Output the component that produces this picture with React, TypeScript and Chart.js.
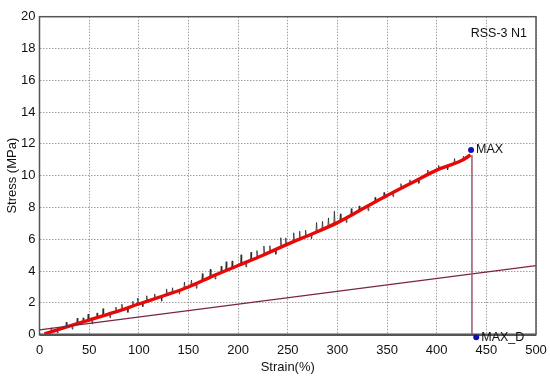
import React, { useEffect, useRef } from "react";
import { Chart, registerables } from "chart.js";

Chart.register(...registerables);

// Smoothed (red) curve
const smoothStrain = [5, 25, 50, 75, 100, 125, 150, 175, 200, 225, 250, 275, 300, 325, 350, 375, 400, 425, 434];
const smoothStress = [0.05, 0.45, 0.92, 1.4, 1.93, 2.45, 3.0, 3.7, 4.35, 5.0, 5.7, 6.35, 7.05, 7.9, 8.75, 9.55, 10.35, 10.95, 11.3];

// Raw (black, noisy) record
const rawStrain = [
  5,
  11.4, 12, 12.6, 17.4, 18, 18.6, 26.4, 27, 27.6, 32.4, 33, 33.6, 37.4, 38, 38.6,
  43.4, 44, 44.6, 48.4, 49, 49.6, 52.4, 53, 53.6, 57.4, 58, 58.6, 63.4, 64, 64.6,
  70.4, 71, 71.6, 76.4, 77, 77.6, 82.4, 83, 83.6, 88.4, 89, 89.6, 93.4, 94, 94.6,
  98.4, 99, 99.6, 103.4, 104, 104.6, 107.4, 108, 108.6, 115.4, 116, 116.6, 122.4, 123, 123.6,
  127.4, 128, 128.6, 133.4, 134, 134.6, 140.4, 141, 141.6, 145.4, 146, 146.6, 152.4, 153, 153.6,
  157.4, 158, 158.6, 163.4, 164, 164.6, 171.4, 172, 172.6, 176.4, 177, 177.6, 182.4, 183, 183.6,
  187.4, 188, 188.6, 193.4, 194, 194.6, 202.4, 203, 203.6, 207.4, 208, 208.6, 212.4, 213, 213.6,
  218.4, 219, 219.6, 225.4, 226, 226.6, 231.4, 232, 232.6, 237.4, 238, 238.6, 242.4, 243, 243.6,
  247.4, 248, 248.6, 255.4, 256, 256.6, 261.4, 262, 262.6, 267.4, 268, 268.6, 273.4, 274, 274.6,
  278.4, 279, 279.6, 284.4, 285, 285.6, 290.4, 291, 291.6, 296.4, 297, 297.6, 302.4, 303, 303.6,
  308.4, 309, 309.6, 313.4, 314, 314.6, 321.4, 322, 322.6, 330.4, 331, 331.6, 337.4, 338, 338.6,
  346.4, 347, 347.6, 355.4, 356, 356.6, 363.4, 364, 364.6, 372.4, 373, 373.6, 381.4, 382, 382.6,
  390.4, 391, 391.6, 401.4, 402, 402.6, 410.4, 411, 411.6, 417.4, 418, 418.6, 426.4, 427, 427.6,
  434,
];
const rawStress = [
  0.05,
  0.19, 0.44, 0.2, 0.3, 0.11, 0.32, 0.48, 0.79, 0.5, 0.59, 0.35, 0.61, 0.68, 1.04, 0.7,
  0.8, 1.06, 0.82, 0.89, 1.3, 0.91, 0.97, 0.68, 0.99, 1.06, 1.37, 1.08, 1.18, 1.64, 1.2,
  1.31, 1.07, 1.33, 1.43, 1.74, 1.45, 1.56, 1.92, 1.58, 1.69, 1.4, 1.71, 1.79, 2.1, 1.81,
  1.9, 2.31, 1.92, 2.0, 1.76, 2.02, 2.09, 2.45, 2.11, 2.25, 2.56, 2.27, 2.4, 2.11, 2.42,
  2.51, 2.87, 2.53, 2.64, 2.95, 2.66, 2.79, 2.55, 2.81, 2.9, 3.31, 2.92, 3.07, 3.43, 3.09,
  3.21, 2.92, 3.23, 3.38, 3.84, 3.4, 3.61, 4.12, 3.63, 3.74, 3.5, 3.76, 3.9, 4.31, 3.92,
  4.03, 4.59, 4.05, 4.18, 4.64, 4.2, 4.42, 5.03, 4.44, 4.55, 4.26, 4.57, 4.68, 5.19, 4.7,
  4.83, 5.29, 4.85, 5.02, 5.58, 5.04, 5.19, 5.6, 5.21, 5.35, 5.06, 5.37, 5.49, 6.1, 5.51,
  5.63, 6.09, 5.65, 5.85, 6.41, 5.87, 6.0, 6.51, 6.02, 6.16, 6.57, 6.18, 6.31, 6.02, 6.33,
  6.45, 7.06, 6.47, 6.62, 7.13, 6.64, 6.79, 7.35, 6.81, 6.96, 7.77, 6.98, 7.14, 7.6, 7.16,
  7.35, 7.06, 7.37, 7.52, 7.93, 7.54, 7.79, 8.1, 7.81, 8.09, 7.8, 8.11, 8.33, 8.64, 8.35,
  8.64, 8.95, 8.66, 8.93, 8.69, 8.95, 9.19, 9.5, 9.21, 9.48, 9.74, 9.5, 9.76, 9.52, 9.78,
  10.05, 10.36, 10.07, 10.39, 10.65, 10.41, 10.6, 10.36, 10.62, 10.77, 11.08, 10.79, 11.02, 11.23, 11.04,
  11.3,
];

// Reference straight line
const refLineStrain = [0, 500];
const refLineStress = [0.3, 4.34];

// Break drop line
const dropStrain = [435.5, 435.5];
const dropStress = [11.3, 0];

// Marked points
const markerNames = ["MAX", "MAX_D"];
const markerStrain = [434.6, 439.8];
const markerStress = [11.62, -0.16];

const sampleName = "RSS-3 N1";

const xTicks = [0, 50, 100, 150, 200, 250, 300, 350, 400, 450, 500];
const yTicks = [0, 2, 4, 6, 8, 10, 12, 14, 16, 18, 20];

const FONT = "'Liberation Sans', Arial, sans-serif";

const zip = (xs: number[], ys: number[]) => xs.map((x, i) => ({ x, y: ys[i] }));

export default function App() {
  const ref = useRef<HTMLCanvasElement | null>(null);

  useEffect(() => {
    if (!ref.current) return;

    const overlay = {
      id: "overlay",
      afterDatasetsDraw(chart: any) {
        const { ctx, chartArea: a, scales } = chart;
        ctx.save();
        ctx.strokeStyle = "#555555";
        ctx.lineWidth = 1.5;
        ctx.strokeRect(a.left, a.top, a.right - a.left, a.bottom - a.top);
        ctx.lineWidth = 2.5;
        ctx.beginPath();
        ctx.moveTo(a.left, a.bottom);
        ctx.lineTo(a.right, a.bottom);
        ctx.stroke();
        ctx.fillStyle = "#1010b8";
        markerNames.forEach((n, i) => {
          const px = scales.x.getPixelForValue(markerStrain[i]);
          const py = scales.y.getPixelForValue(markerStress[i]);
          ctx.beginPath();
          ctx.arc(px, py, 3, 0, Math.PI * 2);
          ctx.fill();
        });
        ctx.fillStyle = "#111111";
        ctx.font = `12.5px ${FONT}`;
        ctx.textBaseline = "middle";
        ctx.textAlign = "left";
        markerNames.forEach((n, i) => {
          const px = scales.x.getPixelForValue(markerStrain[i]);
          const py = scales.y.getPixelForValue(markerStress[i]);
          ctx.fillText(n, px + 5, py);
        });
        ctx.textAlign = "right";
        ctx.fillText(sampleName, a.right - 9, a.top + 16.5);
        ctx.restore();
      },
    };

    const chart = new Chart(ref.current, {
      type: "line",
      data: {
        datasets: [
          {
            label: "raw",
            data: zip(rawStrain, rawStress),
            borderColor: "#2a2a2a",
            borderWidth: 0.8,
            pointRadius: 0,
            tension: 0,
            order: 5,
          },
          {
            label: "smooth",
            data: zip(smoothStrain, smoothStress),
            borderColor: "#e80808",
            borderWidth: 3.4,
            pointRadius: 0,
            cubicInterpolationMode: "monotone",
            order: 4,
          },
          {
            label: "ref",
            data: zip(refLineStrain, refLineStress),
            borderColor: "#7a2444",
            borderWidth: 1.2,
            pointRadius: 0,
            order: 3,
          },
          {
            label: "drop",
            data: zip(dropStrain, dropStress),
            borderColor: "#a0566e",
            borderWidth: 1.5,
            pointRadius: 0,
            order: 2,
          },
        ],
      },
      options: {
        animation: false,
        responsive: false,
        devicePixelRatio: 1,
        parsing: false as any,
        layout: { padding: { top: 16.7, right: 14, left: 0, bottom: 0 } },
        plugins: { legend: { display: false }, tooltip: { enabled: false } },
        scales: {
          x: {
            type: "linear",
            min: 0,
            max: 500,
            afterFit: (s: any) => {
              s.height = 43.3;
              s.paddingLeft = 0;
              s.paddingRight = 0;
            },
            afterBuildTicks: (s: any) => {
              s.ticks = xTicks.map((v) => ({ value: v }));
            },
            ticks: {
              color: "#111111",
              font: { family: FONT, size: 13 },
              padding: 8,
              maxRotation: 0,
            },
            grid: { color: "#a0a0a0", lineWidth: 1, drawTicks: false },
            border: { display: false, dash: [1.5, 1.5] },
            title: {
              display: true,
              text: "Strain(%)",
              color: "#111111",
              font: { family: FONT, size: 13 },
              padding: { top: 0, bottom: 3 },
            },
          },
          y: {
            type: "linear",
            min: 0,
            max: 20,
            afterFit: (s: any) => {
              s.width = 39.5;
              s.paddingTop = 0;
              s.paddingBottom = 0;
            },
            afterBuildTicks: (s: any) => {
              s.ticks = yTicks.map((v) => ({ value: v }));
            },
            ticks: {
              color: "#111111",
              font: { family: FONT, size: 13 },
              padding: 4,
            },
            grid: { color: "#a0a0a0", lineWidth: 1, drawTicks: false },
            border: { display: false, dash: [1.5, 1.5] },
            title: {
              display: true,
              text: "Stress (MPa)",
              color: "#111111",
              font: { family: FONT, size: 13 },
              padding: { top: 5, bottom: 0 },
            },
          },
        },
      },
      plugins: [overlay],
    });

    return () => chart.destroy();
  }, []);

  return (
    <div style={{ position: "fixed", left: 0, top: 0, width: 550, height: 378, background: "#ffffff" }}>
      <canvas ref={ref} width={550} height={378} style={{ width: 550, height: 378, display: "block" }} />
    </div>
  );
}
